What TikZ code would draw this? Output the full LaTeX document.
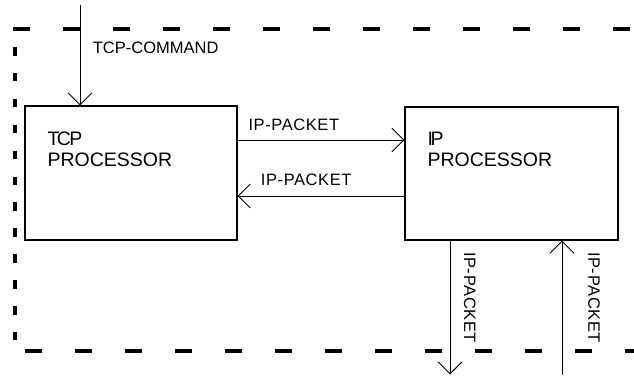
\documentclass[tikz,border=0pt]{standalone}
\usepackage{fontspec}
\setmainfont{Liberation Sans}
\newfontfamily\labelfont[LetterSpace=3.6]{Liberation Sans}
\usetikzlibrary{arrows.meta}

\begin{document}
\begin{tikzpicture}[x=1pt,y=-1pt,
  procbox/.style={draw, line width=1.2pt, minimum width=212pt, minimum height=134pt, inner sep=0pt},
  boxtext/.style={anchor=north west, inner sep=0pt, align=left,
    font=\fontsize{19.5}{20.7}\selectfont},
  flowlabel/.style={anchor=base west, inner sep=0pt, font=\fontsize{16.5}{19}\selectfont},
  arr/.style={line width=0.9pt, -{Straight Barb[length=12pt,width=24pt]}},
  borderdash/.style={line width=3.5pt},
  sidedash/.style={line width=4.5pt}
]
\useasboundingbox (0,0) rectangle (634,375);

% system boundary: dashes along the top and bottom, short bars on the left
\foreach \x in {13,63,...,613} \draw[borderdash] (\x,29) -- ++(17,0);
\foreach \x in {25,75,...,625} \draw[borderdash] (\x,351) -- ++(17,0);
\foreach \i in {0,...,11} \draw[sidedash] (15,47+25.9*\i) -- ++(0,8.5);

% processors
\node[procbox] (tcp) at (131,173) {};
\node[procbox, minimum width=213pt, minimum height=133pt] (ip) at (511.5,173.5) {};
\node[boxtext] (tcptxt) at (47.3,131.7) {T\kern-2.5pt C\kern-1.5pt P\\PROCESSOR};
\node[boxtext] (iptxt) at (427.3,131.7) {I\kern-2.4pt P\\PROCESSOR};

% command input
\coordinate (cmd) at (80,5);
\draw[arr] (cmd) -- (cmd |- tcp.north);
\node[flowlabel] (cmdlbl) at (92.7,53.3) {TCP-COMMAND};

% packets between the processors
\draw[arr] ([yshift=33pt]tcp.east) -- ([yshift=33pt]tcp.east -| ip.west);
\draw[arr] ([yshift=-23pt]tcp.east -| ip.west) -- ([yshift=-23pt]tcp.east);
\node[flowlabel] (pk1) at (248.3,130) {\labelfont IP-PACKET};
\node[flowlabel] (pk2) at (260.7,185) {\labelfont IP-PACKET};

% packets leaving and entering the IP processor
\coordinate (dn) at (450,374.5);
\coordinate (upc) at (562,375);
\draw[arr] (dn |- ip.south) -- (dn);
\draw[arr] (upc) -- (upc |- ip.south);
\node[flowlabel, rotate=-90] (pk3) at (464,252) {\labelfont IP-PACKET};
\node[flowlabel, rotate=-90] (pk4) at (588.3,252) {\labelfont IP-PACKET};
\end{tikzpicture}
\end{document}
